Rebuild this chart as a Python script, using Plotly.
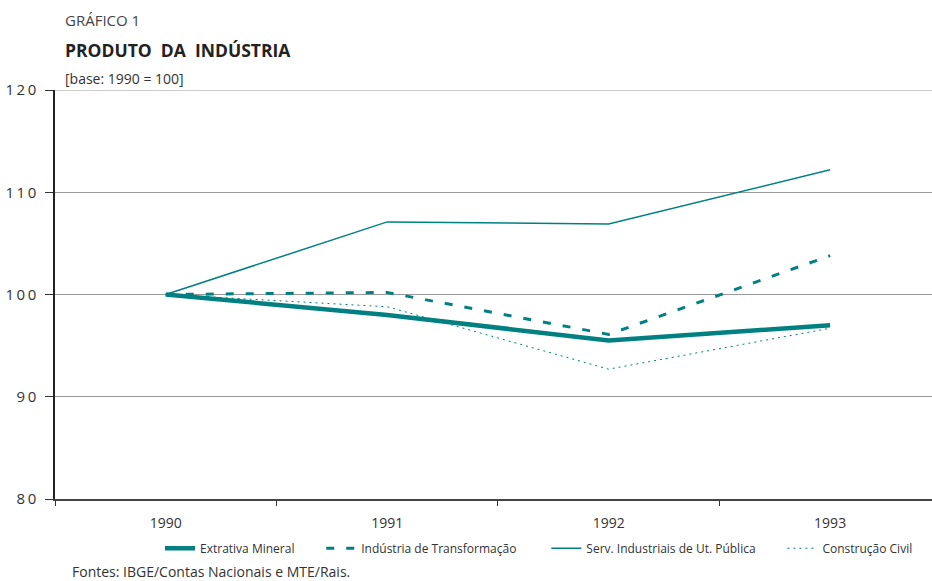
import plotly.graph_objects as go

years = ["1990", "1991", "1992", "1993"]
extrativa = [100.0, 98.0, 95.5, 97.0]
transformacao = [100.0, 100.2, 96.1, 103.8]
servicos = [100.0, 107.1, 106.9, 112.2]
construcao = [100.0, 98.8, 92.7, 96.7]
y_ticks = [80, 90, 100, 110, 120]
series_names = ["Extrativa Mineral", "Indústria de Transformação",
                "Serv. Industriais de Ut. Pública", "Construção Civil"]

TEAL = "#008080"
FONT = "Open Sans"
NB = "\u00a0"
GRID = "#9a9a9a"

fig = go.Figure()
fig.add_trace(go.Scatter(x=years, y=extrativa, mode="lines", name=series_names[0] + NB * 7,
                         line=dict(color=TEAL, width=4.5)))
fig.add_trace(go.Scatter(x=years, y=transformacao, mode="lines", name=series_names[1] + NB * 8,
                         line=dict(color=TEAL, width=3, dash="8px,12px")))
fig.add_trace(go.Scatter(x=years, y=servicos, mode="lines", name=series_names[2] + NB * 7,
                         line=dict(color=TEAL, width=1.5)))
fig.add_trace(go.Scatter(x=years, y=construcao, mode="lines", name=series_names[3],
                         line=dict(color=TEAL, width=1, dash="2px,4px")))

fig.update_layout(
    width=932, height=581,
    margin=dict(l=55, r=0, t=90, b=82),
    paper_bgcolor="white", plot_bgcolor="white",
    font=dict(family=FONT, color="#333333", size=13),
    showlegend=True,
    legend=dict(orientation="h", x=(160 - 55) / 877, xanchor="left", y=-0.085, yanchor="top",
                font=dict(size=12, color="#333333"), itemwidth=30, tracegroupgap=0,
                bgcolor="rgba(0,0,0,0)"),
)
fig.update_xaxes(type="category", range=[-0.5, 3.46], tickson="boundaries",
                 ticks="outside", ticklen=5, tickcolor="#333333", showgrid=False,
                 showline=True, linecolor="#444444", linewidth=2, ticklabelstandoff=10,
                 tickfont=dict(size=14, color="#333333"))
fig.update_yaxes(range=[y_ticks[0], y_ticks[-1]], tickvals=y_ticks,
                 ticktext=["\u2009".join(str(v)) for v in y_ticks],
                 ticks="outside", ticklen=8, tickcolor="#333333", ticklabelstandoff=6,
                 showline=True, linecolor="#222222", linewidth=1.5,
                 showgrid=True, gridcolor=GRID, gridwidth=1,
                 zeroline=False, tickfont=dict(size=15, color="#333333"))

# top gridline (hidden by plotly at the range edge)
fig.add_hline(y=y_ticks[-1], line=dict(color=GRID, width=1), layer="below")

fig.add_annotation(text="GRÁFICO 1", xref="paper", yref="paper", x=(63-55)/877, y=1 + (90-20)/409,
                   xanchor="left", yanchor="middle", showarrow=False,
                   font=dict(size=15, color="#444444", family=FONT))
fig.add_annotation(text="<b>PRODUTO  DA  INDÚSTRIA</b>", xref="paper", yref="paper", x=(63-55)/877,
                   y=1 + (90-50)/409, xanchor="left", yanchor="middle", showarrow=False,
                   font=dict(size=17.5, color="#222222", family=FONT))
fig.add_annotation(text="[base: 1990 = 100]", xref="paper", yref="paper", x=(63-55)/877,
                   y=1 + (90-78)/409, xanchor="left", yanchor="middle", showarrow=False,
                   font=dict(size=14, color="#333333", family=FONT))
fig.add_annotation(text="Fontes: IBGE/Contas Nacionais e MTE/Rais.", xref="paper", yref="paper",
                   x=(70-55)/877, y=-(571-499)/409, xanchor="left", yanchor="middle",
                   showarrow=False, font=dict(size=14, color="#333333", family=FONT))

fig.write_html("out.html", post_script="document.body.style.margin='0';",
               config={"displayModeBar": False})
